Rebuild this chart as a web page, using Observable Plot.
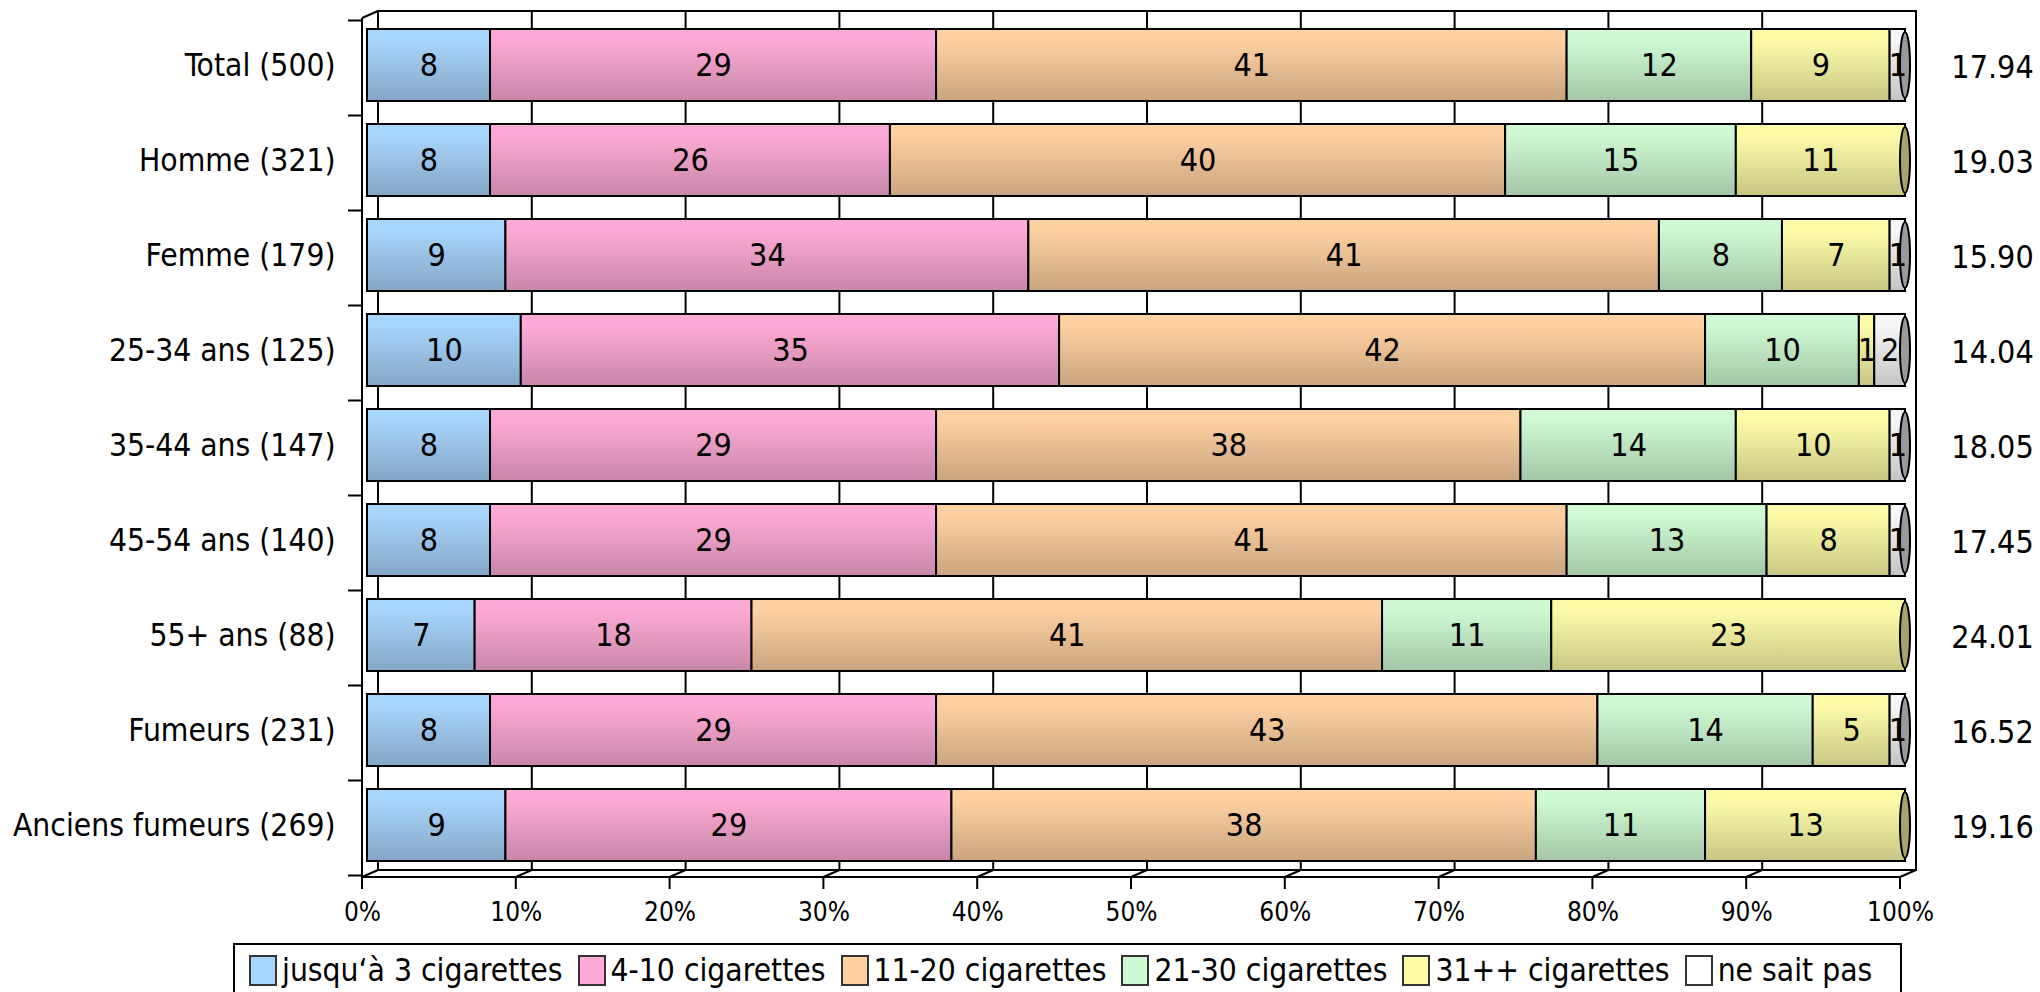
<!DOCTYPE html>
<html><head><meta charset="utf-8">
<script src="https://cdn.jsdelivr.net/npm/d3@7"></script>
<script src="https://cdn.jsdelivr.net/npm/@observablehq/plot@0.6"></script>
<style>
body{margin:0;background:#fff;font-family:"DejaVu Sans Condensed","DejaVu Sans",sans-serif;}
#wrap{position:relative;width:2040px;height:992px;overflow:hidden;}
#legend{position:absolute;left:233px;top:943px;width:1669px;height:70px;border:2px solid #000;box-sizing:border-box;display:flex;align-items:center;align-content:flex-start;padding:0 0 16px 14px;gap:15px;font-size:31.5px;color:#000;}
#legend .item{display:flex;align-items:center;white-space:nowrap;}
#legend .sw{width:24px;height:27px;border:2px solid #333;margin-right:5px;}
</style></head><body><div id="wrap"></div>
<script>
const categories = ["Total (500)","Homme (321)","Femme (179)","25-34 ans (125)","35-44 ans (147)","45-54 ans (140)","55+ ans (88)","Fumeurs (231)","Anciens fumeurs (269)"];
const series = ["jusqu‘à 3 cigarettes","4-10 cigarettes","11-20 cigarettes","21-30 cigarettes","31++ cigarettes","ne sait pas"];
const upTo3   = [8,8,9,10,8,8,7,8,9];
const c4to10  = [29,26,34,35,29,29,18,29,29];
const c11to20 = [41,40,41,42,38,41,41,43,38];
const c21to30 = [12,15,8,10,14,13,11,14,11];
const c31plus = [9,11,7,1,10,8,23,5,13];
const nsp     = [1,0,1,2,1,1,0,1,0];
const averages = ["17.94","19.03","15.90","14.04","18.05","17.45","24.01","16.52","19.16"];
const xTicks = [0,10,20,30,40,50,60,70,80,90,100];
const topColors    = ["#a8d5fc","#feaad6","#fed1a2","#cffad3","#fefca9","#f7f7f7"];
const bottomColors = ["#84a6c6","#c886a8","#c9a47f","#a3c6a6","#c9c685","#c4c4c4"];
const capColors    = ["#6f8ca8","#a86f8c","#a88a68","#87a68a","#a6a46a","#9a9a9a"];

const seriesValues = [upTo3,c4to10,c11to20,c21to30,c31plus,nsp];
const data = [];
categories.forEach((cat,i)=>seriesValues.forEach((vals,s)=>data.push({cat, series: series[s], s, value: vals[i]})));
const avgData = categories.map((cat,i)=>({cat, avg: averages[i]}));
const lastSeries = categories.map((cat,i)=>{let k=0; seriesValues.forEach((v,s)=>{if(v[i]>0) k=s;}); return {cat, s:k};});

const FX=-5, FY=3, BX=11, BY=-4;

function defsMark(){
  const g = d3.create("svg:g");
  const defs = g.append("defs");
  topColors.forEach((c,i)=>{
    const lg = defs.append("linearGradient").attr("id","grad"+i).attr("x1",0).attr("y1",0).attr("x2",0).attr("y2",1);
    lg.append("stop").attr("offset","0%").attr("stop-color",c);
    lg.append("stop").attr("offset","15%").attr("stop-color",c);
    lg.append("stop").attr("offset","100%").attr("stop-color",bottomColors[i]);
  });
  return g.node();
}

function frame3d(index, scales, values, dims){
  const x = scales.x, y = scales.y;
  const top = dims.marginTop, bot = dims.height - dims.marginBottom;
  const g = d3.create("svg:g").attr("stroke","#000").attr("stroke-width",2).attr("fill","none");
  g.append("rect").attr("x",x(0)+BX).attr("y",top+BY).attr("width",x(100)-x(0)).attr("height",bot-top);
  for (const t of xTicks){
    g.append("line").attr("x1",x(t)+BX).attr("x2",x(t)+BX).attr("y1",top+BY).attr("y2",bot+BY);
    g.append("line").attr("x1",x(t)+FX).attr("x2",x(t)+BX).attr("y1",bot+FY).attr("y2",bot+BY);
    g.append("line").attr("x1",x(t)+FX).attr("x2",x(t)+FX).attr("y1",bot+FY).attr("y2",bot+FY+12);
  }
  g.append("line").attr("x1",x(0)+FX).attr("x2",x(0)+FX).attr("y1",top+FY).attr("y2",bot+FY);
  g.append("line").attr("x1",x(0)+FX).attr("x2",x(100)+FX).attr("y1",bot+FY).attr("y2",bot+FY);
  g.append("line").attr("x1",x(0)+FX).attr("x2",x(0)+BX).attr("y1",top+FY).attr("y2",top+BY);
  const step = y.step(), bw = y.bandwidth();
  const bounds = categories.map(c=>y(c)-(step-bw)/2);
  bounds.push(bounds[bounds.length-1]+step);
  for (const b of bounds){
    g.append("line").attr("x1",x(0)+FX-14).attr("x2",x(0)+FX).attr("y1",b+FY).attr("y2",b+FY);
  }
  return g.node();
}

function caps(index, scales, values, dims){
  const x = scales.x, y = scales.y, bw = y.bandwidth();
  const g = d3.create("svg:g").attr("stroke","#000").attr("stroke-width",2);
  for (const d of lastSeries){
    g.append("ellipse").attr("cx",x(100)).attr("cy",y(d.cat)+bw/2).attr("rx",5).attr("ry",bw/2-3).attr("fill",capColors[d.s]);
  }
  return g.node();
}

const chart = Plot.plot({
  width: 2040, height: 940,
  marginLeft: 367, marginRight: 135, marginTop: 15, marginBottom: 66,
  style: {fontFamily: '"DejaVu Sans Condensed","DejaVu Sans",sans-serif', color: "#000", background: "#fff"},
  x: {domain: [0,100]},
  y: {domain: categories, paddingInner: 0.245, paddingOuter: 0.1225},
  color: {domain: series, range: series.map((s,i)=>`url(#grad${i})`)},
  marks: [
    defsMark,
    frame3d,
    Plot.barX(data, Plot.stackX({x:"value", y:"cat", fill:"series", stroke:"#000", strokeWidth:2, order: null})),
    caps,
    Plot.text(data, Plot.stackX({filter: d=>d.value>0, x:"value", y:"cat", z:"series", text: d=>String(d.value), fontSize:32, fill:"#000"})),
    Plot.text(avgData, {y:"cat", text:"avg", frameAnchor:"right", dx:87, dy:2, fontSize:32, textAnchor:"middle", fill:"#000"}),
    Plot.axisY({tickSize:0, tickPadding:32, fontSize:31.5, label:null}),
    Plot.axisX({ticks: xTicks, tickSize:0, tickPadding:28, tickFormat: d=>d+"%", fontSize:26, dx:FX, label:null})
  ]
});
const wrap = document.getElementById("wrap");
wrap.appendChild(chart);
const legend = document.createElement("div");
legend.id = "legend";
series.forEach((s,i)=>{
  const it = document.createElement("div"); it.className="item";
  const sw = document.createElement("span"); sw.className="sw"; sw.style.background = i===5 ? "#ffffff" : topColors[i];
  const tx = document.createElement("span"); tx.textContent = s;
  it.appendChild(sw); it.appendChild(tx); legend.appendChild(it);
});
wrap.appendChild(legend);
</script></body></html>
